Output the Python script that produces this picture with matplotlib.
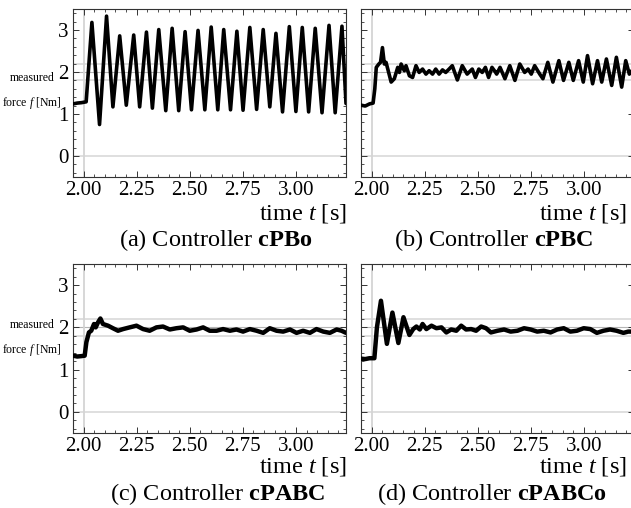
import matplotlib
matplotlib.use("Agg")
import matplotlib.pyplot as plt
from matplotlib.ticker import MultipleLocator

plt.rcParams["font.family"] = "Liberation Serif"
plt.rcParams["mathtext.fontset"] = "custom"
plt.rcParams["mathtext.rm"] = "Liberation Serif"
plt.rcParams["mathtext.it"] = "Liberation Serif:italic"
plt.rcParams["mathtext.bf"] = "Liberation Serif:bold"

# (a) cPBo - sustained oscillation, values read at peaks / troughs
t_a = [1.95, 1.97, 1.99, 2.012,
       2.039, 2.075, 2.108, 2.138, 2.170, 2.201, 2.236, 2.264, 2.296, 2.324,
       2.354, 2.387, 2.417, 2.448, 2.478, 2.508, 2.539, 2.571, 2.601, 2.632,
       2.660, 2.692, 2.722, 2.751, 2.783, 2.815, 2.846, 2.877, 2.906, 2.937,
       2.969, 3.000, 3.030, 3.060, 3.091, 3.123, 3.156, 3.185, 3.217, 3.236]
f_a = [1.24, 1.26, 1.27, 1.29,
       3.18, 0.75, 3.33, 1.17, 2.86, 1.21, 2.88, 1.17, 2.95, 1.14,
       3.01, 1.08, 3.04, 1.08, 2.96, 1.10, 2.99, 1.10, 3.07, 1.10,
       3.01, 1.10, 2.97, 1.09, 3.06, 1.11, 3.01, 1.17, 2.92, 1.05,
       3.08, 1.06, 3.06, 1.05, 3.04, 1.03, 3.11, 1.03, 3.09, 1.25]

# (b) cPBC
t_b = [1.95, 1.97, 1.99, 2.007, 2.015, 2.022, 2.034, 2.042, 2.051, 2.060,
       2.068, 2.092, 2.107, 2.123, 2.131, 2.139, 2.154, 2.162, 2.178, 2.193,
       2.209, 2.224, 2.240, 2.256, 2.271, 2.287, 2.302, 2.318, 2.334, 2.349,
       2.365, 2.380, 2.404, 2.427, 2.450, 2.474, 2.489, 2.505, 2.521, 2.536,
       2.551, 2.567, 2.583, 2.589, 2.605, 2.628, 2.651, 2.675, 2.698, 2.721,
       2.737, 2.752, 2.768, 2.792, 2.807, 2.830, 2.854, 2.882, 2.904, 2.929,
       2.950, 2.975, 2.997, 3.017, 3.041, 3.064, 3.084, 3.106, 3.131, 3.153,
       3.178, 3.197, 3.214, 3.236]
f_b = [1.21, 1.19, 1.24, 1.26, 1.60, 2.11, 2.19, 2.23, 2.58, 2.19,
       2.23, 1.76, 1.84, 2.11, 1.99, 2.19, 2.03, 2.15, 1.91, 1.87,
       2.15, 1.99, 2.07, 1.95, 2.03, 1.95, 2.07, 1.95, 2.05, 1.99,
       2.07, 2.15, 1.81, 2.15, 1.95, 2.07, 1.87, 2.07, 1.99, 2.11,
       1.87, 2.11, 2.00, 1.95, 2.11, 1.84, 2.15, 1.80, 2.19, 1.99,
       2.07, 1.95, 2.15, 1.95, 1.84, 2.23, 1.76, 2.27, 1.80, 2.23,
       1.80, 2.27, 1.76, 2.39, 1.72, 2.27, 1.76, 2.31, 1.68, 2.35,
       1.64, 2.27, 1.95, 2.10]

# (c) cPABC
t_c = [1.95, 1.97, 1.99, 2.005, 2.013, 2.025, 2.036, 2.049, 2.057, 2.068,
       2.079, 2.091, 2.115, 2.138, 2.162, 2.186, 2.217, 2.249, 2.280, 2.311,
       2.343, 2.374, 2.406, 2.437, 2.469, 2.500, 2.532, 2.563, 2.594, 2.626,
       2.657, 2.689, 2.720, 2.751, 2.783, 2.815, 2.846, 2.877, 2.909, 2.940,
       2.972, 3.003, 3.034, 3.066, 3.097, 3.129, 3.160, 3.192, 3.215, 3.236]
f_c = [1.33, 1.31, 1.32, 1.33, 1.65, 1.88, 1.92, 2.08, 2.00, 2.12,
       2.21, 2.08, 2.04, 1.98, 1.92, 1.96, 2.00, 2.04, 1.96, 1.92,
       2.00, 2.02, 1.95, 1.98, 2.00, 1.92, 1.95, 2.00, 1.92, 1.92,
       1.96, 1.92, 1.95, 1.90, 1.96, 1.92, 1.87, 1.98, 1.92, 1.90,
       1.95, 1.87, 1.92, 1.87, 1.96, 1.90, 1.87, 1.95, 1.92, 1.87]

# (d) cPABCo
t_d = [1.95, 1.97, 1.99, 2.013, 2.025, 2.044, 2.072, 2.098, 2.126, 2.150,
       2.178, 2.196, 2.211, 2.227, 2.240, 2.258, 2.282, 2.305, 2.329, 2.352,
       2.375, 2.399, 2.422, 2.445, 2.469, 2.492, 2.516, 2.539, 2.562, 2.593,
       2.624, 2.655, 2.687, 2.718, 2.749, 2.780, 2.811, 2.843, 2.874, 2.905,
       2.936, 2.967, 2.999, 3.030, 3.061, 3.092, 3.123, 3.154, 3.186, 3.209, 3.236]
f_d = [1.26, 1.25, 1.27, 1.27, 2.00, 2.63, 1.61, 2.35, 1.63, 2.24,
       1.82, 1.96, 2.02, 1.95, 2.08, 1.96, 2.04, 1.98, 2.00, 1.88,
       1.95, 1.92, 2.04, 1.95, 1.96, 1.92, 2.02, 1.98, 1.88, 1.92,
       1.95, 1.90, 1.92, 1.98, 1.95, 1.90, 1.92, 1.88, 1.95, 1.98,
       1.90, 1.92, 1.98, 1.96, 1.87, 1.92, 1.95, 1.92, 1.87, 1.90, 1.90]

captions = ["(a) Controller $\\mathbf{cPBo}$", "(b) Controller $\\mathbf{cPBC}$",
            "(c) Controller $\\mathbf{cPABC}$", "(d) Controller $\\mathbf{cPABCo}$"]
series = [(t_a, f_a, 2.6), (t_b, f_b, 2.6), (t_c, f_c, 3.2), (t_d, f_d, 3.2)]

W, H = 631, 508
fig = plt.figure(figsize=(W / 100, H / 100), dpi=100)

# axes boxes in pixels: left, top, width, height
boxes = [(73, 9, 273, 168), (361, 9, 273, 168),
         (73, 264, 273, 169), (361, 264, 273, 169)]
cap_x = [216, 494, 218, 492]

for i, ((l, t, w, h), (x, y, lw), cap) in enumerate(zip(boxes, series, captions)):
    ax = fig.add_axes([l / W, 1 - (t + h) / H, w / W, h / H])
    for yy in (0, 1.8, 2.2):
        ax.axhline(yy, color="#dcdcdc", lw=1.3, zorder=1)
    ax.axhline(2.0, color="#b4b4b4", lw=0.8, zorder=1)
    ax.axvline(2.0, color="#d4d4d4", lw=1.3, zorder=1)
    ax.plot(x, y, color="black", lw=lw, solid_joinstyle="round",
            solid_capstyle="round", zorder=3)

    ax.set_xlim(1.95, 3.236)
    ax.set_ylim(-0.5, 3.5)
    ax.set_xticks([2.0, 2.25, 2.5, 2.75, 3.0])
    ax.set_xticklabels(["2.00", "2.25", "2.50", "2.75", "3.00"])
    ax.set_yticks([0, 1, 2, 3])
    ax.xaxis.set_minor_locator(MultipleLocator(0.05))
    ax.yaxis.set_minor_locator(MultipleLocator(0.2))
    ax.tick_params(which="both", direction="in", top=True, right=True,
                   labelsize=15, pad=3, color="#333333")
    ax.tick_params(which="major", length=4, width=0.7)
    ax.tick_params(which="minor", length=2, width=0.6)
    for s in ax.spines.values():
        s.set_linewidth(0.8)
        s.set_color("#333333")
    if i % 2 == 1:
        ax.set_yticklabels([])

    row_y = 214 if i < 2 else 467
    right = 347 if i % 2 == 0 else 627
    fig.text(right / W, 1 - row_y / H, "time $t$ [s]", ha="right", va="center",
             fontsize=17.5)
    cap_y = 240 if i < 2 else 494
    fig.text(cap_x[i] / W, 1 - cap_y / H, cap, ha="center", va="center",
             fontsize=17.5)

# y label, two lines, left of the left-hand panels
for y1, y2 in ((78, 103), (325, 350)):
    fig.text(32 / W, 1 - y1 / H, "measured", ha="center", va="center",
             fontsize=8.5)
    fig.text(32 / W, 1 - y2 / H, "force $f$ [Nm]", ha="center", va="center",
             fontsize=8.5)

fig.savefig("out.png", dpi=100)
